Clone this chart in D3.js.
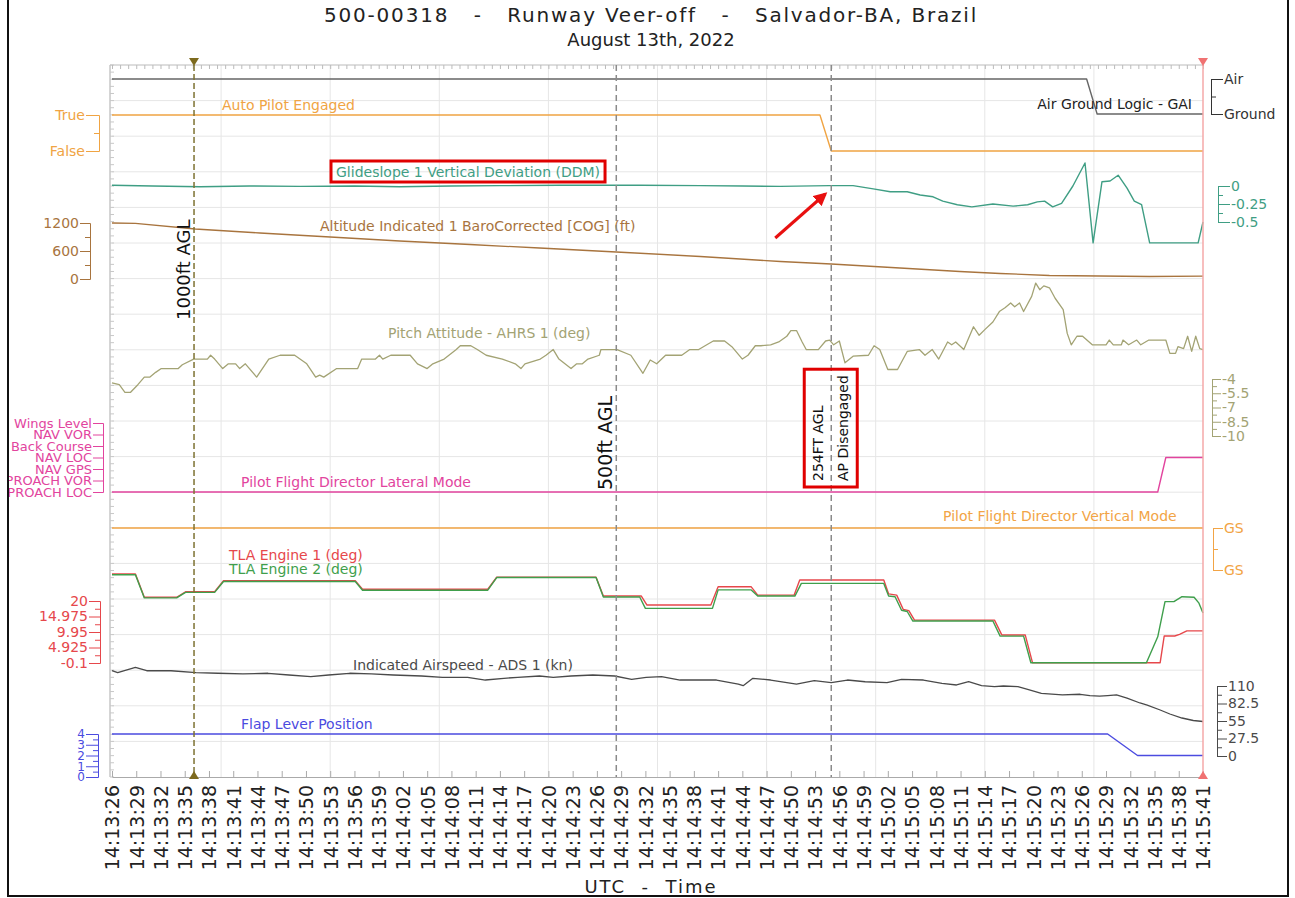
<!DOCTYPE html>
<html>
<head>
<meta charset="utf-8">
<script src="https://cdn.jsdelivr.net/npm/d3@7"></script>
<style>
  body { margin: 0; background: #fff; }
  text { font-family: "DejaVu Sans", Verdana, sans-serif; }
</style>
</head>
<body>
<svg id="chart" width="1295" height="898"></svg>
<script>
// all times are seconds after 14:13:26 UTC
var startClock = 14 * 3600 + 13 * 60 + 26;
var timeTicks = d3.range(0, 136, 3);

var airGroundData = [[0, 1], [120.6, 1], [121.9, 0], [135, 0]];
var autoPilotData = [[0, 1], [87.6, 1], [89, 0], [135, 0]];

var glideData = [[0, 0.01], [5, 0], [10.9, -0.01], [17, 0], [23.3, -0.005], [30, 0], [35.6, -0.01],
  [42, 0], [48, 0.005], [55.4, 0.01], [60, 0.01], [65.3, 0.01], [72.8, 0.005], [78, 0], [82.7, -0.005],
  [88.8, 0.005], [91.7, 0.005], [94.2, -0.04], [96.3, -0.08], [98.4, -0.08], [100, -0.125], [101.6, -0.15],
  [102.8, -0.21], [104.6, -0.26], [106.4, -0.29], [109, -0.25], [111.5, -0.28], [113.3, -0.26], [114.5, -0.22],
  [115.4, -0.21], [116.4, -0.29], [117.5, -0.24], [118.9, 0], [120.4, 0.32], [121.4, -0.79], [122.5, 0.06],
  [123.5, 0.07], [124.5, 0.15], [125.6, -0.03], [126.5, -0.21], [127.4, -0.26], [128.4, -0.79], [134.4, -0.79],
  [135, -0.5]];

var altitudeData = [[0, 1200], [2.9, 1190], [10.3, 1071], [18.3, 986], [27, 900], [35.6, 814], [44.3, 739],
  [52.9, 664], [62.4, 579], [72.8, 482], [82.7, 375], [89, 321], [97.5, 236], [104.9, 161], [109.9, 118],
  [116, 75], [122.2, 64], [128.4, 54], [135, 60]];

var pitchData = [[0, -4.4], [0.9, -4.6], [1.6, -5.4], [2.3, -5.4], [3.2, -4.6], [4.0, -3.8], [4.7, -3.8],
  [5.4, -3.3], [6.1, -2.9], [8.2, -2.9], [8.7, -2.5], [10.1, -1.9], [11.8, -1.9], [12.2, -1.5], [12.7, -1.9],
  [13.7, -2.9], [14.4, -2.4], [15.3, -2.4], [15.8, -2.9], [16.5, -2.4], [17.9, -3.8], [19.4, -1.9], [20.8, -1.5],
  [22.6, -1.5], [24.1, -2.4], [25.2, -3.8], [25.7, -3.6], [26.2, -3.8], [27.8, -2.9], [30.4, -2.9], [30.9, -1.9],
  [32.6, -1.9], [33.1, -1.5], [33.5, -1.9], [34.5, -1.5], [36.9, -1.5], [37.8, -2.4], [39.0, -2.9], [39.7, -2.4],
  [41.1, -1.9], [42.6, -0.9], [43.1, -0.5], [44.4, -0.5], [45.2, -0.9], [46.3, -1.5], [48.3, -1.9], [49.9, -2.4],
  [50.6, -2.9], [51.1, -2.4], [53.0, -1.9], [53.7, -1.5], [54.6, -0.9], [55.3, -1.9], [56.8, -2.9], [57.5, -2.4],
  [58.2, -2.4], [58.9, -1.9], [60.3, -1.5], [60.5, -0.9], [62.5, -0.9], [64.2, -1.5], [65.7, -3.4], [66.6, -2.0],
  [67.4, -2.4], [68.5, -1.5], [70.5, -1.5], [71.5, -0.9], [72.6, -0.9], [73.6, -0.4], [74.4, 0.0], [75.8, 0.0],
  [76.7, -0.6], [78.0, -1.9], [78.7, -1.5], [79.6, -0.5], [80.3, -0.5], [81.5, -0.4], [82.5, -0.1], [83.5, 0.5],
  [84.0, 1.1], [84.7, 1.1], [85.4, -0.1], [85.9, -0.9], [87.4, -0.9], [88.3, 0.0], [88.8, 0.1], [89.3, -0.4],
  [90.0, 0.0], [90.7, -2.3], [91.7, -1.6], [93.6, -1.5], [94.3, -0.5], [95.0, -0.9], [96.0, -3.0], [97.2, -3.0],
  [98.4, -1.1], [99.9, -0.9], [100.6, -1.5], [101.5, -0.9], [102.3, -1.9], [103.4, -0.1], [103.9, -0.4],
  [104.4, -0.1], [105.4, -0.9], [106.6, 1.5], [107.3, 0.6], [108.0, 1.2], [109.0, 2.0], [109.8, 3.1], [110.5, 3.5],
  [111.2, 4.0], [111.7, 3.6], [112.3, 4.0], [112.8, 3.1], [113.8, 4.7], [114.3, 6.1], [114.8, 5.4], [115.3, 5.8],
  [116.0, 5.6], [116.7, 4.5], [117.7, 3.3], [118.2, 0.8], [118.7, -0.4], [119.4, 0.5], [120.1, 0.5], [121.3, -0.4],
  [123.0, -0.4], [123.4, 0.1], [123.9, -0.4], [124.9, -0.4], [125.1, 0.1], [125.8, -0.4], [126.8, 0.1],
  [127.3, -0.4], [128.3, 0.1], [130.4, 0.1], [130.9, -1.3], [131.6, -1.3], [131.9, -0.6], [132.6, -0.8],
  [133.1, 0.5], [133.6, -1.1], [134.1, 0.5], [134.6, -0.8], [135, -0.9]];

// lateral mode index, 0 = Wings Level ... 6 = APPROACH LOC
var lateralModes = ["Wings Level", "NAV VOR", "Back Course", "NAV LOC", "NAV GPS", "APPROACH VOR", "APPROACH LOC"];
var lateralData = [[0, 6], [129.4, 6], [130.4, 3], [135, 3]];
var verticalModes = ["GS", "GS"];
var verticalData = [[0, 1], [135, 1]];

var tla1Data = [[0, 28.75], [2.9, 28.75], [4.0, 21.2], [8.0, 21.2], [9.1, 23.0], [12.7, 23.0], [13.8, 26.6],
  [30.1, 26.6], [31.0, 23.8], [46.5, 23.8], [47.6, 27.7], [59.9, 27.7], [60.8, 21.6], [65.5, 21.6], [66.2, 18.7],
  [74.1, 18.7], [75.0, 24.6], [79.1, 24.6], [79.9, 21.9], [84.4, 21.9], [85.1, 26.8], [95.5, 26.8], [96.1, 22.3],
  [97.1, 21.9], [97.9, 17.3], [98.6, 16.9], [99.3, 13.8], [109.2, 13.8], [110.1, 9.0], [113.0, 9.0], [113.9, 0],
  [129.7, 0], [130.2, 8.65], [131.5, 8.65], [132.1, 9.2], [133.0, 10.3], [135, 10.3]];

var tla2Data = [[0, 28.5], [2.9, 28.5], [4.0, 21.0], [8.0, 21.0], [9.1, 22.8], [12.7, 22.8], [13.8, 26.3],
  [30.1, 26.3], [31.0, 23.5], [46.5, 23.5], [47.6, 27.6], [59.9, 27.6], [60.8, 21.3], [65.3, 21.3], [66.0, 17.6],
  [74.3, 17.6], [75.0, 23.6], [79.1, 23.6], [79.9, 21.6], [84.5, 21.6], [85.3, 25.7], [95.5, 25.7], [96.1, 21.6],
  [96.9, 21.4], [97.7, 17.0], [98.4, 16.6], [99.1, 13.5], [109.0, 13.5], [109.9, 8.6], [112.8, 8.6], [113.7, 0],
  [128.0, 0], [129.4, 8.4], [130.3, 19.8], [131.4, 19.8], [132.4, 21.4], [133.9, 21.2], [134.5, 19.3], [135, 16.1]];

var speedData = [[0, 134.0], [0.7, 130.9], [2.9, 139.4], [4.3, 134.0], [7.3, 134.0], [10.4, 130.9], [13.1, 130.0],
  [16.2, 128.9], [19.3, 130.0], [21.9, 127.3], [24.6, 124.6], [26.8, 127.3], [29.4, 130.0], [32.1, 128.9],
  [34.8, 127.3], [38.3, 125.7], [40.9, 123.7], [44.0, 123.7], [46.2, 119.4], [48.5, 122.1], [50.2, 123.7],
  [52.9, 125.7], [54.6, 123.7], [56.8, 125.7], [59.5, 127.3], [62.2, 125.7], [64.3, 120.5], [66.1, 123.7],
  [68.0, 124.6], [70.3, 119.4], [74.8, 119.4], [77.5, 113.1], [78.1, 110.5], [79.3, 122.1], [81.5, 119.4],
  [84.7, 113.1], [86.9, 118.3], [89.0, 115.2], [91.0, 119.4], [93.2, 116.7], [95.9, 115.2], [97.7, 120.5],
  [100.4, 119.4], [102.7, 114.2], [104.5, 111.6], [106.0, 116.7], [107.6, 110.5], [109.2, 108.9], [110.3, 110.0],
  [112.1, 108.9], [113.3, 104.8], [115.0, 98.5], [117.6, 95.9], [119.8, 97.0], [121.0, 95.0], [122.2, 94.0],
  [123.2, 95.0], [124.3, 96.0], [125.6, 91.1], [127.2, 83.3], [128.1, 80.1], [129.7, 72.3], [130.9, 66.0],
  [132.4, 59.7], [133.8, 55.8], [135, 54.2]];

var flapData = [[0, 4], [123.2, 4], [126.9, 2], [135, 2]];

// event markers
var markerTimes = [10.15, 62.4, 89.0];

var svg = d3.select("#chart");
var x = d3.scaleLinear().domain([0, 135]).range([112, 1203]);
var plotTop = 65, plotBottom = 777;

var yAirGround = d3.scaleLinear().domain([0, 1]).range([114, 79]);
var yAutoPilot = d3.scaleLinear().domain([0, 1]).range([151, 115]);
var yGlide = d3.scaleLinear().domain([-0.5, 0]).range([222, 186]);
var yAlt = d3.scaleLinear().domain([0, 1200]).range([279, 223]);
var yPitch = d3.scaleLinear().domain([-10, -4]).range([436, 379]);
var yLateral = d3.scaleLinear().domain([0, 6]).range([423, 492]);
var yVertical = d3.scaleLinear().domain([0, 1]).range([570, 528]);
var yTla = d3.scaleLinear().domain([-0.1, 20]).range([663, 601]);
var ySpeed = d3.scaleLinear().domain([0, 110]).range([756, 686]);
var yFlap = d3.scaleLinear().domain([0, 4]).range([777, 734]);

function clock(s) {
  var t = startClock + s;
  var hh = Math.floor(t / 3600), mm = Math.floor(t / 60) % 60, ss = t % 60;
  return hh + ":" + d3.format("02")(mm) + ":" + d3.format("02")(ss);
}

// grid
var grid = svg.append("g");
grid.selectAll(".vg").data(d3.range(1, 10)).enter().append("line")
  .attr("x1", function(i) { return x(i * 13.5); }).attr("x2", function(i) { return x(i * 13.5); })
  .attr("y1", plotTop).attr("y2", plotBottom)
  .attr("stroke", "#e6e6e6");
grid.selectAll(".hg").data(d3.range(1, 20)).enter().append("line")
  .attr("x1", x(0)).attr("x2", x(135))
  .attr("y1", function(i) { return plotTop + i * (plotBottom - plotTop) / 20; })
  .attr("y2", function(i) { return plotTop + i * (plotBottom - plotTop) / 20; })
  .attr("stroke", "#e6e6e6");

// frame of plot: left edge, top edge with small ticks
svg.append("line").attr("x1", 110).attr("x2", 110).attr("y1", plotTop).attr("y2", plotBottom).attr("stroke", "#aaa");
svg.append("line").attr("x1", 110).attr("x2", x(135)).attr("y1", plotTop).attr("y2", plotTop).attr("stroke", "#bbb");
svg.selectAll(".lt").data(d3.range(0, 101)).enter().append("line")
  .attr("x1", 110).attr("x2", 114)
  .attr("y1", function(i) { return plotTop + i * (plotBottom - plotTop) / 100; })
  .attr("y2", function(i) { return plotTop + i * (plotBottom - plotTop) / 100; })
  .attr("stroke", "#c8c8c8");
svg.append("g").attr("transform", "translate(0," + plotTop + ")")
  .call(d3.axisTop(x).tickValues(d3.range(0, 136)).tickSize(-4).tickSizeOuter(0).tickFormat(""))
  .call(function(g) { g.select(".domain").remove(); g.selectAll("line").attr("stroke", "#bbb"); });

// time axis
var xAxisG = svg.append("g").attr("transform", "translate(0," + plotBottom + ")");
xAxisG.call(d3.axisBottom(x).tickValues(d3.range(0, 136)).tickSize(-4).tickSizeOuter(0).tickFormat(""));
xAxisG.call(d3.axisBottom(x).tickValues(timeTicks).tickSize(-6).tickSizeOuter(0).tickFormat(clock));
xAxisG.selectAll("path,line").attr("stroke", "#aaa");
xAxisG.selectAll("text")
  .attr("transform", "rotate(-90)")
  .attr("x", -8).attr("y", 0).attr("dy", "0.36em")
  .attr("text-anchor", "end")
  .attr("fill", "#222")
  .style("font-size", "19px")
  .style("font-family", "DejaVu Sans");

svg.append("text").attr("x", 651).attr("y", 893).attr("text-anchor", "middle")
  .style("font-size", "18px").style("letter-spacing", "2px").style("white-space", "pre")
  .attr("fill", "#222").text("UTC  -  Time");

// bracket style axes for every band
function bandAxis(side, xPos, scale, majors, labels, size, color, minors, fontSize) {
  var make = side === "left" ? d3.axisLeft : d3.axisRight;
  var g = svg.append("g").attr("transform", "translate(" + xPos + ",0)");
  if (minors) {
    g.append("g").call(make(scale).tickValues(minors).tickSize(5).tickSizeOuter(0).tickFormat(""))
      .call(function(s) { s.select(".domain").remove(); });
  }
  g.append("g").call(make(scale).tickValues(majors).tickSize(size).tickSizeOuter(size).tickPadding(1)
    .tickFormat(function(d, i) { return labels ? labels[i] : String(d); }));
  g.selectAll("path,line").attr("stroke", color);
  g.selectAll("text").attr("fill", color).style("font-size", (fontSize || 14) + "px")
    .style("font-family", "DejaVu Sans");
  return g;
}

var cAirGround = "#555555", cAuto = "#f0a443", cGlide = "#3f9e84", cAlt = "#a8743e", cPitch = "#a3a374",
  cLateral = "#e2449e", cVertical = "#f2a445", cTla1 = "#e6474b", cTla2 = "#3f9f4c", cSpeed = "#4a4a4a",
  cFlap = "#4b4be0";

bandAxis("left", 99, yAutoPilot, [1, 0], ["True", "False"], 13, cAuto, [0.5]);
bandAxis("left", 90, yAlt, [1200, 600, 0], null, 10, cAlt, [900, 300]);
bandAxis("left", 103, yLateral, d3.range(0, 7), lateralModes, 10, cLateral, null, 13);
bandAxis("left", 100, yTla, [20, 14.975, 9.95, 4.925, -0.1], null, 11, cTla1, [17.4875, 12.4625, 7.4375, 2.4125]);
bandAxis("left", 98, yFlap, [4, 3, 2, 1, 0], null, 12, cFlap, [3.5, 2.5, 1.5, 0.5], 12);

bandAxis("right", 1211, yAirGround, [1, 0], ["Air", "Ground"], 12, "#333", [0.5]);
bandAxis("right", 1218, yGlide, [0, -0.25, -0.5], null, 12, cGlide, [-0.125, -0.375]);
bandAxis("right", 1212, yPitch, [-4, -5.5, -7, -8.5, -10], null, 9, cPitch, [-4.75, -6.25, -7.75, -9.25], 14);
bandAxis("right", 1213, yVertical, [1, 0], verticalModes, 10, cVertical, [0.5]);
bandAxis("right", 1217, ySpeed, [110, 82.5, 55, 27.5, 0], null, 10, cSpeed, [96.25, 68.75, 41.25, 13.75]);

// series
function drawSeries(data, yScale, color, width) {
  svg.append("path").datum(data)
    .attr("fill", "none").attr("stroke", color).attr("stroke-width", width || 1.3)
    .attr("stroke-linejoin", "round")
    .attr("d", d3.line().x(function(d) { return x(d[0]); }).y(function(d) { return yScale(d[1]); }));
}

drawSeries(airGroundData, yAirGround, "#666", 1.4);
drawSeries(autoPilotData, yAutoPilot, cAuto, 1.4);
drawSeries(glideData, yGlide, cGlide, 1.4);
drawSeries(altitudeData, yAlt, cAlt, 1.3);
drawSeries(pitchData, yPitch, cPitch, 1.3);
drawSeries(lateralData, yLateral, cLateral, 1.4);
drawSeries(verticalData, yVertical, cVertical, 1.4);
drawSeries(tla1Data, yTla, cTla1, 1.4);
drawSeries(tla2Data, yTla, cTla2, 1.4);
drawSeries(speedData, ySpeed, cSpeed, 1.3);
drawSeries(flapData, yFlap, cFlap, 1.4);

// series labels
function label(txt, lx, ly, color, anchor) {
  return svg.append("text").attr("x", lx).attr("y", ly).attr("fill", color)
    .attr("text-anchor", anchor || "start").style("font-size", "14px").text(txt);
}
label("Air Ground Logic - GAI", 1192, 109, "#222", "end");
label("Auto Pilot Engaged", 222, 110, cAuto);
var gsLabel = label("Glideslope 1 Vertical Deviation (DDM)", 336, 177, cGlide);
label("Altitude Indicated 1 BaroCorrected [COG] (ft)", 320, 231, cAlt);
label("Pitch Attitude - AHRS 1 (deg)", 388, 338, cPitch);
label("Pilot Flight Director Lateral Mode", 241, 487, cLateral);
label("Pilot Flight Director Vertical Mode", 943, 521, cVertical);
label("TLA Engine 1 (deg)", 229, 560, cTla1);
label("TLA Engine 2 (deg)", 229, 574, cTla2);
label("Indicated Airspeed - ADS 1 (kn)", 353, 670, cSpeed);
label("Flap Lever Position", 241, 729, cFlap);

// vertical event lines
var mk = svg.append("g");
mk.append("line").attr("x1", x(markerTimes[0])).attr("x2", x(markerTimes[0]))
  .attr("y1", plotTop).attr("y2", plotBottom)
  .attr("stroke", "#7d7232").attr("stroke-width", 1.5).attr("stroke-dasharray", "6,3");
[markerTimes[1], markerTimes[2]].forEach(function(t) {
  mk.append("line").attr("x1", x(t)).attr("x2", x(t)).attr("y1", plotTop).attr("y2", plotBottom)
    .attr("stroke", "#8a8a8a").attr("stroke-width", 1.5).attr("stroke-dasharray", "6,4");
});
mk.append("line").attr("x1", x(135)).attr("x2", x(135)).attr("y1", plotTop).attr("y2", plotBottom)
  .attr("stroke", "#f5a8a8").attr("stroke-width", 1.5);

function triangles(t, color) {
  var cx = x(t);
  mk.append("path").attr("d", "M" + (cx - 5) + "," + (plotTop - 7) + "L" + (cx + 5) + "," + (plotTop - 7) + "L" + cx + "," + (plotTop + 1) + "Z").attr("fill", color);
  mk.append("path").attr("d", "M" + (cx - 5) + "," + (plotBottom + 2) + "L" + (cx + 5) + "," + (plotBottom + 2) + "L" + cx + "," + (plotBottom - 6) + "Z").attr("fill", color);
}
triangles(markerTimes[0], "#7d6a1e");
triangles(135, "#f07272");

function vtext(txt, bx, by, size) {
  return svg.append("text").attr("transform", "translate(" + bx + "," + by + ") rotate(-90)")
    .attr("fill", "#111").style("font-size", size + "px").text(txt);
}
vtext("1000ft AGL", x(markerTimes[0]) - 4, 320, 18);
vtext("500ft AGL", x(markerTimes[1]) - 4, 490, 19);
var apG = svg.append("g");
apG.append("text").attr("transform", "translate(" + (x(markerTimes[2]) - 8) + ",481) rotate(-90)")
  .attr("fill", "#111").style("font-size", "14px").text("254FT AGL");
apG.append("text").attr("transform", "translate(" + (x(markerTimes[2]) + 17) + ",481) rotate(-90)")
  .attr("fill", "#111").style("font-size", "14px").text("AP Disengaged");

// red highlight boxes and arrow
var b1 = gsLabel.node().getBBox();
svg.append("rect").attr("x", b1.x - 5).attr("y", b1.y - 3).attr("width", b1.width + 10).attr("height", b1.height + 5)
  .attr("fill", "none").attr("stroke", "#e00000").attr("stroke-width", 3);
var b2 = apG.node().getBBox();
svg.append("rect").attr("x", b2.x - 6).attr("y", b2.y - 6).attr("width", b2.width + 12).attr("height", b2.height + 12)
  .attr("fill", "none").attr("stroke", "#e00000").attr("stroke-width", 3);

var defs = svg.append("defs");
defs.append("marker").attr("id", "ah").attr("viewBox", "0 0 10 10").attr("refX", 8).attr("refY", 5)
  .attr("markerWidth", 4.5).attr("markerHeight", 4.5).attr("orient", "auto")
  .append("path").attr("d", "M0,0L10,5L0,10Z").attr("fill", "#e81010");
svg.append("line").attr("x1", x(markerTimes[2]) - 56).attr("y1", 238)
  .attr("x2", x(markerTimes[2]) - 6).attr("y2", 194)
  .attr("stroke", "#e81010").attr("stroke-width", 3).attr("marker-end", "url(#ah)");

// title
svg.append("text").attr("x", 651).attr("y", 22).attr("text-anchor", "middle").attr("fill", "#222")
  .style("font-size", "20px").style("white-space", "pre").style("letter-spacing", "1.8px")
  .text("500-00318   -   Runway Veer-off   -   Salvador-BA, Brazil");
svg.append("text").attr("x", 651).attr("y", 46).attr("text-anchor", "middle").attr("fill", "#222")
  .style("font-size", "18px").text("August 13th, 2022");

// outer frame, clipping axis text that runs off the left side
svg.append("rect").attr("x", 0).attr("y", 0).attr("width", 8).attr("height", 898).attr("fill", "#fff");
svg.append("rect").attr("x", 8).attr("y", -2).attr("width", 1280).attr("height", 898)
  .attr("fill", "none").attr("stroke", "#111").attr("stroke-width", 2);
</script>
</body>
</html>
